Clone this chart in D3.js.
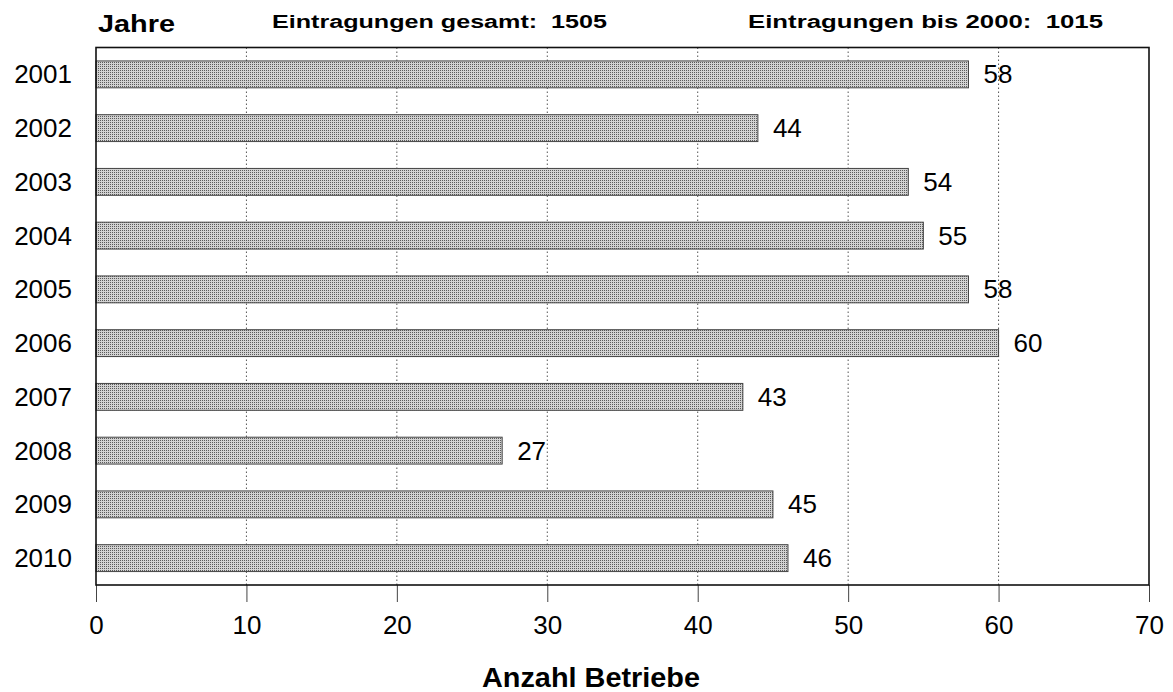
<!DOCTYPE html>
<html><head><meta charset="utf-8">
<script src="https://cdn.jsdelivr.net/npm/d3@7"></script>
<style>
html,body{margin:0;padding:0;background:#fff;}
text{font-family:"Liberation Sans",Arial,sans-serif;fill:#000;}
</style></head>
<body>
<svg id="chart" width="1173" height="692"></svg>
<script>
const years = ["2001","2002","2003","2004","2005","2006","2007","2008","2009","2010"];
const counts = [58,44,54,55,58,60,43,27,45,46];
const xTicks = [0,10,20,30,40,50,60,70];
const headerLeft = "Jahre";
const headerMid = "Eintragungen gesamt:  1505";
const headerRight = "Eintragungen bis 2000:  1015";
const xTitle = "Anzahl Betriebe";

const svg = d3.select("#chart");
const m = {left:96, right:1149, top:47.5, bottom:585};

const defs = svg.append("defs");
const pat = defs.append("pattern").attr("id","stip").attr("patternUnits","userSpaceOnUse")
  .attr("width",2).attr("height",2);
pat.append("rect").attr("width",2).attr("height",2).attr("fill","#d2d2d2");
pat.append("rect").attr("width",1).attr("height",1).attr("fill","#5a5a5a");

const x = d3.scaleLinear().domain([0,70]).range([m.left,m.right]);
const y = d3.scaleBand().domain(years).range([m.top,m.bottom]).paddingInner(0.5).paddingOuter(0.25);

// gridlines
svg.append("g").selectAll("line").data(xTicks.filter(t=>t>0&&t<70)).join("line")
  .attr("x1",d=>x(d)).attr("x2",d=>x(d)).attr("y1",m.top).attr("y2",m.bottom)
  .attr("stroke","#555").attr("stroke-width",1).attr("stroke-dasharray","1.5,2.5");

// x axis
const xAxis = svg.append("g").attr("transform",`translate(0,${m.bottom})`)
  .call(d3.axisBottom(x).tickValues(xTicks).tickSize(17).tickPadding(14));
xAxis.select(".domain").remove();
xAxis.selectAll(".tick line").attr("stroke","#444");
xAxis.selectAll(".tick text").attr("font-size",26).attr("font-family","Liberation Sans, Arial, sans-serif").attr("fill","#000");

// bars
svg.append("g").selectAll("rect").data(years).join("rect")
  .attr("x",x(0)).attr("y",d=>y(d))
  .attr("width",(d,i)=>x(counts[i])-x(0)).attr("height",y.bandwidth())
  .attr("fill","url(#stip)").attr("stroke","#444").attr("stroke-width",1);

// value labels
svg.append("g").selectAll("text").data(years).join("text")
  .attr("x",(d,i)=>x(counts[i])+15).attr("y",d=>y(d)+y.bandwidth()/2)
  .attr("dy","0.35em").attr("font-size",26).text((d,i)=>counts[i]);

// year labels
svg.append("g").selectAll("text").data(years).join("text")
  .attr("x",72).attr("y",d=>y(d)+y.bandwidth()/2).attr("dy","0.35em")
  .attr("text-anchor","end").attr("font-size",26).text(d=>d);

// frame
svg.append("rect").attr("x",m.left).attr("y",m.top).attr("width",m.right-m.left).attr("height",m.bottom-m.top)
  .attr("fill","none").attr("stroke","#111").attr("stroke-width",1.6);

// headers
svg.append("text").attr("x",98).attr("y",32).attr("font-size",24).attr("font-weight","bold")
  .attr("textLength",77).attr("lengthAdjust","spacingAndGlyphs").text(headerLeft);
svg.append("text").attr("x",272).attr("y",28).attr("font-size",18).attr("font-weight","bold")
  .attr("textLength",335).attr("lengthAdjust","spacingAndGlyphs").attr("xml:space","preserve").style("white-space","pre").text(headerMid);
svg.append("text").attr("x",748).attr("y",28).attr("font-size",18).attr("font-weight","bold")
  .attr("textLength",355).attr("lengthAdjust","spacingAndGlyphs").style("white-space","pre").text(headerRight);

// x title
svg.append("text").attr("x",591).attr("y",687).attr("text-anchor","middle").attr("font-size",28)
  .attr("font-weight","bold").attr("textLength",218).attr("lengthAdjust","spacingAndGlyphs").text(xTitle);
</script>
</body></html>
